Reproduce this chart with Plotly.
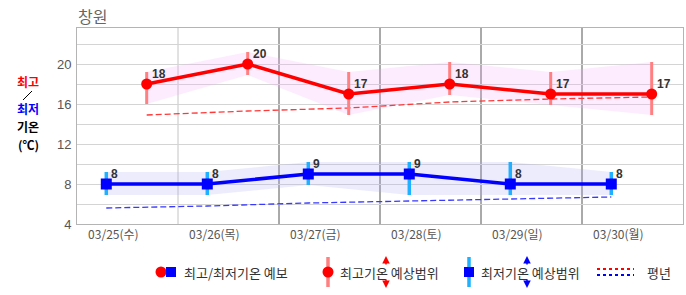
import plotly.graph_objects as go

# ---------------- data ----------------
dates = ["03/25(수)", "03/26(목)", "03/27(금)", "03/28(토)", "03/29(일)", "03/30(월)"]
high = [18, 20, 17, 18, 17, 17]
high_top = [19.2, 21.2, 19.2, 20.2, 19.2, 20.2]
high_bot = [16.0, 18.9, 14.9, 16.9, 15.9, 14.9]
low = [8, 8, 9, 9, 8, 8]
low_top = [9.2, 9.2, 10.2, 10.2, 10.2, 9.2]
low_bot = [6.9, 6.9, 7.9, 6.9, 6.9, 6.9]
normal_high = [14.9, 15.3, 15.6, 16.2, 16.5, 16.7]
normal_low = [5.6, 5.8, 6.1, 6.3, 6.5, 6.7]

# x positions (days); lows in the morning, highs in the afternoon
x_low = [float(i) for i in range(len(dates))]
x_high = [i + 0.4 for i in x_low]
x_label = [i + 0.07 for i in x_low]
x_grid = [i + 0.71 for i in x_low[:-1]]

W, H = 686, 295
ML, MR, MT, MB = 77, 3, 28, 71
PW, PH = W - ML - MR, H - MT - MB


def px(X):
    return (X - ML) / PW


def py(Y):
    return (MT + PH - Y) / PH


FONT = "Liberation Sans, Noto Sans CJK KR, sans-serif"
KFONT = "Noto Sans CJK KR, sans-serif"

fig = go.Figure()


def band(xs, top, bot, color):
    fig.add_trace(go.Scatter(
        x=xs + xs[::-1], y=top + bot[::-1], fill="toself", fillcolor=color,
        line=dict(width=0), mode="lines", hoverinfo="skip", showlegend=False))


def bars(xs, top, bot, color, width):
    bx, by = [], []
    for x, t, b in zip(xs, top, bot):
        bx += [x, x, None]
        by += [b, t, None]
    fig.add_trace(go.Scatter(x=bx, y=by, mode="lines",
                             line=dict(color=color, width=width),
                             hoverinfo="skip", showlegend=False))


band(x_high, high_top, high_bot, "rgba(245,170,245,0.22)")
band(x_low, low_top, low_bot, "rgba(170,170,245,0.22)")

# normals
fig.add_trace(go.Scatter(x=x_high, y=normal_high, mode="lines",
                         line=dict(color="#ff3838", width=1.3, dash="6px,3px"),
                         showlegend=False))
fig.add_trace(go.Scatter(x=x_low, y=normal_low, mode="lines",
                         line=dict(color="#3838ff", width=1.3, dash="6px,3px"),
                         showlegend=False))

bars(x_high, high_top, high_bot, "#ff8080", 3)
bars(x_low, low_top, low_bot, "#1fb0ff", 3.5)

fig.add_trace(go.Scatter(
    x=x_high, y=high, mode="lines+markers",
    line=dict(color="#ff0000", width=3.5),
    marker=dict(symbol="circle", size=11, color="#ff0000"),
    showlegend=False))
fig.add_trace(go.Scatter(
    x=x_low, y=low, mode="lines+markers",
    line=dict(color="#0000ff", width=3.5),
    marker=dict(symbol="square", size=11, color="#0000ff"),
    showlegend=False))

shapes = []
for i, g in enumerate(x_grid):
    shapes.append(dict(type="line", xref="x", yref="paper", x0=g, x1=g, y0=0, y1=1,
                       line=dict(color="#c4c4c4" if i == 0 else "#555555", width=1),
                       layer="below"))

annotations = []
# value labels
for xs, vs in [(x_high, high), (x_low, low)]:
    for x, v in zip(xs, vs):
        annotations.append(dict(text="<b>%d</b>" % v, x=x, y=v, xref="x", yref="y",
                                xanchor="left", yanchor="middle", xshift=3, yshift=10,
                                showarrow=False,
                                font=dict(family=FONT, size=12, color="#333333")))
# title
annotations.append(dict(text="창원", xref="paper", yref="paper", x=px(76), y=py(16),
                        xanchor="left", yanchor="middle", showarrow=False,
                        font=dict(family=KFONT, size=16, color="#666666")))
# left axis label
for txt, Y, col in [("최고", 81, "#ff0000"), ("최저", 108, "#0000ff"),
                    ("기온", 126, "#000000"), ("(℃)", 144, "#000000")]:
    annotations.append(dict(text="<b>" + txt + "</b>", xref="paper", yref="paper",
                            x=px(28), y=py(Y), xanchor="center", yanchor="middle",
                            showarrow=False, font=dict(family=KFONT, size=12, color=col)))
shapes.append(dict(type="line", xref="paper", yref="paper", x0=px(23), x1=px(32),
                   y0=py(100), y1=py(91), line=dict(color="#000000", width=1)))

# legend
LY = 272


def dot(X, Y, r, color, kind="circle"):
    shapes.append(dict(type=kind, xref="paper", yref="paper", xsizemode="pixel",
                       ysizemode="pixel", xanchor=px(X), yanchor=py(Y),
                       x0=-r, x1=r, y0=-r, y1=r, fillcolor=color,
                       line=dict(width=0)))


def vbar(X, color):
    shapes.append(dict(type="line", xref="paper", yref="paper", x0=px(X), x1=px(X),
                       y0=py(257), y1=py(287), line=dict(color=color, width=3.5)))


def ltext(X, t):
    annotations.append(dict(text=t, xref="paper", yref="paper", x=px(X), y=py(LY),
                            xanchor="left", yanchor="middle", showarrow=False,
                            font=dict(family=KFONT, size=13, color="#333333")))


def arrows(X, color):
    annotations.append(dict(text="", xref="paper", yref="paper", x=px(X), y=py(256),
                            ax=0, ay=10, showarrow=True, arrowhead=2, arrowsize=1,
                            arrowwidth=1.5, arrowcolor=color))
    annotations.append(dict(text="", xref="paper", yref="paper", x=px(X), y=py(288),
                            ax=0, ay=-10, showarrow=True, arrowhead=2, arrowsize=1,
                            arrowwidth=1.5, arrowcolor=color))


dot(161, LY, 5.5, "#ff0000", "circle")
dot(171, LY, 5, "#0000ff", "rect")
ltext(182, "최고/최저기온 예보")
vbar(328, "#ff8080")
dot(328, LY, 5.5, "#ff0000", "circle")
ltext(338, "최고기온 예상범위")
arrows(386, "#ff0000")
vbar(469, "#1fb0ff")
dot(469, LY, 5, "#0000ff", "rect")
ltext(479, "최저기온 예상범위")
arrows(527, "#0000ff")
shapes.append(dict(type="line", xref="paper", yref="paper", x0=px(597), x1=px(634),
                   y0=py(269), y1=py(269), line=dict(color="#ff0000", width=2, dash="dot")))
shapes.append(dict(type="line", xref="paper", yref="paper", x0=px(597), x1=px(634),
                   y0=py(275), y1=py(275), line=dict(color="#0000ff", width=2, dash="dot")))
ltext(645, "평년")

fig.update_layout(
    width=W, height=H, margin=dict(l=ML, r=MR, t=MT, b=MB),
    paper_bgcolor="white", plot_bgcolor="white",
    shapes=shapes, annotations=annotations, showlegend=False,
    xaxis=dict(range=[-0.29, 5.71], tickvals=x_label, ticktext=dates,
               showgrid=False, zeroline=False, showline=True, mirror=True,
               linecolor="#b4b4b4", linewidth=1, ticks="",
               tickfont=dict(family=KFONT, size=12, color="#555555")),
    yaxis=dict(range=[4, 23.6], tick0=4, dtick=4, showgrid=True, gridcolor="#d4d4d4",
               minor=dict(dtick=2, tick0=4, showgrid=True, gridcolor="#d4d4d4"),
               zeroline=False, showline=True, mirror=True, linecolor="#b4b4b4",
               linewidth=1, ticks="", ticklabelstandoff=2,
               tickfont=dict(family=FONT, size=13, color="#555555")),
)

fig.write_html("out.html")
